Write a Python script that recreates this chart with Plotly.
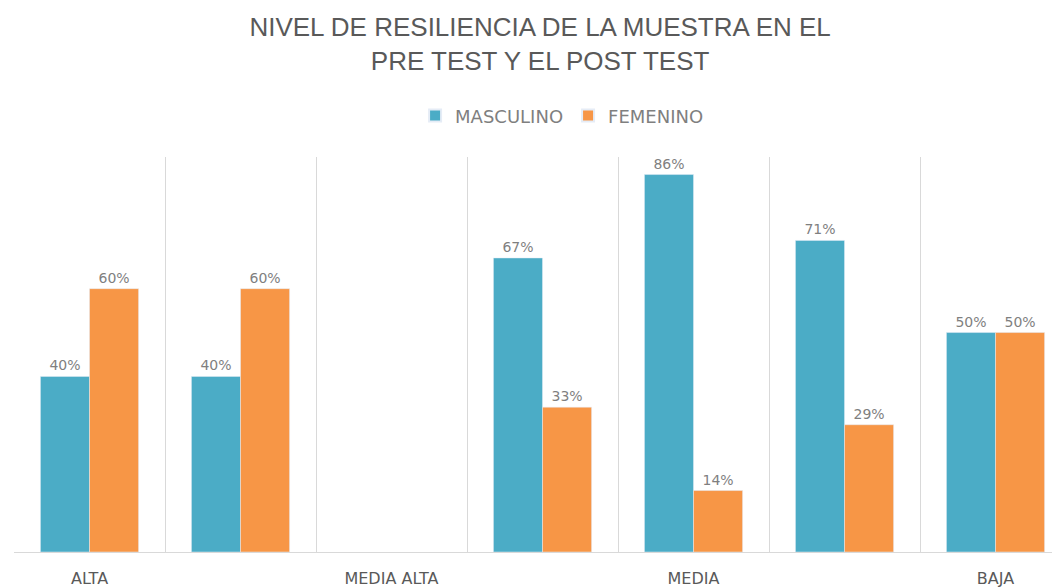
import plotly.graph_objects as go

slots = [0, 1, 2, 3, 4, 5, 6]
tick_positions = [0, 2, 4, 6]
tick_labels = ["ALTA", "MEDIA ALTA", "MEDIA", "BAJA"]
masculino = [0.40, 0.40, None, 0.67, 0.86, 0.71, 0.50]
femenino = [0.60, 0.60, None, 0.33, 0.14, 0.29, 0.50]

def fmt(vals):
    return ["" if v is None else f"{round(v*100)}%" for v in vals]

txt_family = "DejaVu Sans, Verdana, sans-serif"
label_font = dict(family=txt_family, size=14, color="#7f7f7f")

fig = go.Figure()
fig.add_trace(go.Bar(x=slots, y=masculino, name="MASCULINO", marker_color="#4BACC6",
                     text=fmt(masculino), textposition="outside", textfont=label_font,
                     cliponaxis=False))
fig.add_trace(go.Bar(x=slots, y=femenino, name="FEMENINO", marker_color="#F79646",
                     text=fmt(femenino), textposition="outside", textfont=label_font,
                     cliponaxis=False))

fig.update_layout(
    width=1060, height=588,
    paper_bgcolor="white", plot_bgcolor="white",
    margin=dict(l=6, r=0, t=149, b=44),
    barmode="group", bargap=0.35, bargroupgap=0,
    title=dict(text="NIVEL DE RESILIENCIA DE LA MUESTRA EN EL<br>PRE TEST Y EL POST TEST",
               x=0.502, xref="container", xanchor="center",
               y=0.952, yref="container", yanchor="middle",
               font=dict(family="Liberation Sans, Arial, sans-serif", size=26, color="#595959")),
    legend=dict(orientation="h", x=0.52, xanchor="center", y=1.104, yanchor="middle",
                font=dict(family=txt_family, size=18, color="#7f7f7f"),
                itemsizing="constant", traceorder="normal"),
)
fig.update_xaxes(range=[-0.5, 6.48], tickvals=tick_positions, ticktext=tick_labels,
                 showgrid=False, zeroline=False, showline=True, linecolor="#d9d9d9", linewidth=1,
                 ticks="", ticklabelstandoff=12,
                 tickfont=dict(family=txt_family, size=16, color="#595959"),
                 minor=dict(tickvals=[-0.5, 0.5, 1.5, 2.5, 3.5, 4.5, 5.5, 6.5], showgrid=True,
                            gridcolor="#d9d9d9", gridwidth=1, ticks=""),
                 fixedrange=True)
fig.update_yaxes(range=[0, 0.9], showgrid=False, zeroline=False, showticklabels=False,
                 showline=False, fixedrange=True)

fig.write_html("out.html")
